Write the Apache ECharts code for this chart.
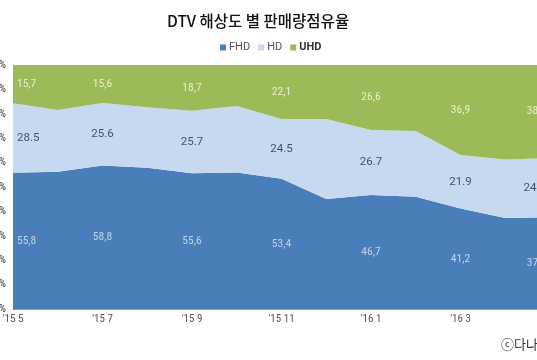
<!DOCTYPE html>
<html><head><meta charset="utf-8">
<script src="https://cdn.jsdelivr.net/npm/echarts@6/dist/echarts.min.js"></script>
<style>html,body{margin:0;padding:0;background:#fff;}#c{width:537px;height:360px;}</style>
</head><body><div id="c"></div>
<script>
var categories = ["'15 5","'15 6","'15 7","'15 8","'15 9","'15 10","'15 11","'15 12","'16 1","'16 2","'16 3","'16 4","'16 5"];
var fhd = [55.8, 56.3, 58.8, 57.9, 55.6, 55.9, 53.4, 45.1, 46.7, 46.0, 41.2, 37.3, 37.6];
var hd  = [28.5, 25.3, 25.6, 24.8, 25.7, 27.3, 24.5, 32.8, 26.7, 26.9, 21.9, 24.0, 24.2];
var uhd = [15.7, 18.4, 15.6, 17.3, 18.7, 16.8, 22.1, 22.1, 26.6, 27.1, 36.9, 38.7, 38.2];
var yTicks = ['0%','10%','20%','30%','40%','50%','60%','70%','80%','90%','100%'];

var chart = echarts.init(document.getElementById('c'));
var narrow = '"Liberation Sans Narrow", "Roboto Condensed", "DejaVu Sans Condensed", sans-serif';

function labelPoints(vals, base, color, sep, font) {
  var out = [];
  var last = vals.length - 1;
  for (var i = 0; i < vals.length; i += 2) {
    var b = base ? base[i] : 0;
    var d = {
      value: [i, b + vals[i] / 2],
      txt: String(vals[i].toFixed(1)).replace('.', sep)
    };
    if (i === 0) d.label = {align: 'left', offset: [4, 0]};
    if (i === last) d.label = {align: 'right', offset: [-4, 0]};
    out.push(d);
  }
  return {
    type: 'scatter', symbolSize: 0, silent: true, z: 5,
    data: out,
    label: {show: true, position: 'inside', color: color, fontSize: 11.5, fontFamily: font,
      formatter: function (p) { return p.data.txt; }}
  };
}
var base2 = fhd.map(function (v, i) { return v + hd[i]; });

chart.setOption({
  animation: false,
  backgroundColor: '#fff',
  title: {text: 'DTV 해상도 별 판매량점유율', left: 162, top: 8,
    textStyle: {fontSize: 15.5, fontWeight: 500, color: '#111', fontFamily: '"Noto Sans CJK KR", sans-serif'}},
  legend: {left: 215, top: 37, itemWidth: 6, itemHeight: 6, itemGap: 8, icon: 'rect',
    data: ['FHD', 'HD', 'UHD'],
    textStyle: {fontSize: 11, color: '#555', fontFamily: 'Roboto, sans-serif', padding: [0, 0, 0, -2],
      rich: {b: {fontWeight: 'bold', fontSize: 11, color: '#333', fontFamily: 'Roboto, sans-serif'}}},
    formatter: function (n) { return n === 'UHD' ? '{b|UHD}' : n; }},
  grid: {left: 13, top: 65, right: -13, height: 244, containLabel: false, outerBoundsMode: 'none'},
  xAxis: {type: 'category', data: categories, boundaryGap: false,
    axisLine: {show: true, lineStyle: {color: '#8a9bb0'}}, axisTick: {show: false},
    axisLabel: {interval: 1, color: '#555', fontSize: 11, fontFamily: narrow, margin: 5}},
  yAxis: {type: 'value', min: 0, max: 100, interval: 10,
    axisLine: {show: true, lineStyle: {color: '#c8c8c8'}}, axisTick: {show: false},
    splitLine: {show: false},
    axisLabel: {color: '#333', fontSize: 11, margin: 7, fontFamily: narrow,
      formatter: function (v) { return yTicks[Math.round(v / 10)]; }}},
  series: [
    {name: 'FHD', type: 'line', stack: 't', data: fhd, symbol: 'none', lineStyle: {width: 0},
      itemStyle: {color: '#4a7ebb'}, areaStyle: {color: '#4a7ebb', opacity: 1}},
    {name: 'HD', type: 'line', stack: 't', data: hd, symbol: 'none', lineStyle: {width: 0},
      itemStyle: {color: '#c6d9f1'}, areaStyle: {color: '#c6d9f1', opacity: 1}},
    {name: 'UHD', type: 'line', stack: 't', data: uhd, symbol: 'none', lineStyle: {width: 0},
      itemStyle: {color: '#9bbb59'}, areaStyle: {color: '#9bbb59', opacity: 1}},
    labelPoints(fhd, null, '#dce6f4', ',', narrow),
    labelPoints(hd, fhd, '#1f2b3d', '.', 'Roboto, sans-serif'),
    labelPoints(uhd, base2, '#fdfde0', ',', narrow)
  ],
  graphic: [{type: 'text', left: 501, top: 338,
    style: {text: 'ⓒ다나와', fontSize: 13, fill: '#333', fontFamily: '"Noto Sans CJK KR", sans-serif'}}]
});
</script></body></html>
